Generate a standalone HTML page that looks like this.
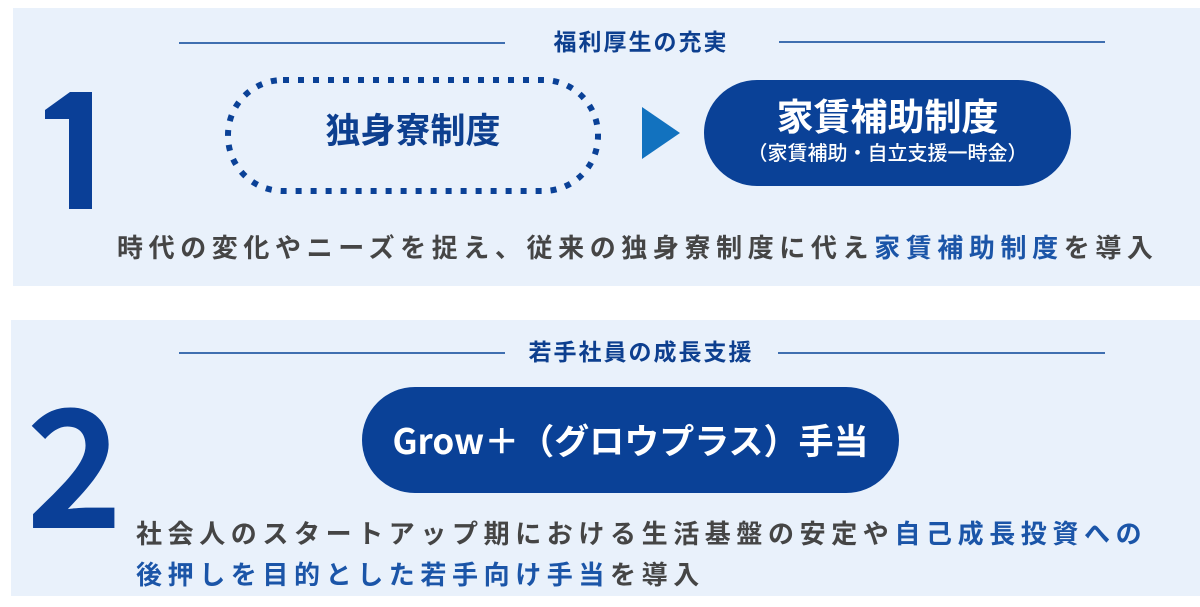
<!DOCTYPE html>
<html><head><meta charset="utf-8"><style>
*{margin:0;padding:0;box-sizing:border-box}
body{width:1200px;height:607px;background:#fff;position:relative;overflow:hidden;font-family:"Liberation Sans","Noto Sans CJK JP",sans-serif}
.p{position:absolute;background:#e9f1fb}
.a{position:absolute;white-space:nowrap}
.line{position:absolute;height:2px;background:#3f6fb0}
.t{color:#0d3f8f;font-weight:700;font-size:23px;letter-spacing:2px;text-align:center;width:400px;left:441px;line-height:26px}
.num{color:#0a3f97;font-weight:700;font-family:"Noto Sans CJK JP",sans-serif;line-height:1}
.body{color:#454545;font-weight:700;font-size:26px;letter-spacing:5.6px;line-height:41px}
.b{color:#1b55a8}
.pill{position:absolute;background:#0a4197;border-radius:60px;color:#fff;text-align:center}
</style></head><body>
<div class="p" style="left:13px;top:8px;width:1187px;height:278px"></div>
<div class="p" style="left:11px;top:320px;width:1189px;height:276px"></div>

<!-- panel 1 -->
<div class="line" style="left:179px;top:42px;width:326px"></div>
<div class="line" style="left:779px;top:41px;width:326px"></div>
<div class="a t" style="top:29px">福利厚生の充実</div>
<div class="a num" style="left:28px;top:68px;font-size:160px;color:transparent">1</div>
<svg class="a" style="left:0;top:0" width="120" height="230"><polygon points="45,110 70,92 92,92 92,209 69,209 69,119 45,119" fill="#0a3f97"/></svg>
<svg class="a" style="left:224px;top:76px" width="380" height="120">
<rect x="4" y="4" width="370" height="111" rx="55" ry="55" fill="none" stroke="#0a4197" stroke-width="6" stroke-dasharray="6 9"/>
</svg>
<div class="a" style="left:226px;top:110px;width:374px;text-align:center;color:#0d3f8f;font-weight:700;font-size:35px;line-height:44px">独身寮制度</div>
<svg class="a" style="left:642px;top:107px" width="40" height="53"><polygon points="0,0 38,26 0,52" fill="#1272bf"/></svg>
<div class="pill" style="left:704px;top:80px;width:367px;height:106px">
<div style="font-size:37px;font-weight:700;line-height:40px;margin-top:18px">家賃補助制度</div>
<div style="font-size:20px;font-weight:500;line-height:24px;margin-top:4px">（家賃補助・自立支援一時金）</div>
</div>
<div class="a body" style="left:117px;top:228px">時代の変化やニーズを捉え、従来の独身寮制度に代え<span class="b">家賃補助制度</span>を導入</div>

<!-- panel 2 -->
<div class="line" style="left:179px;top:352px;width:326px"></div>
<div class="line" style="left:778px;top:352px;width:327px"></div>
<div class="a t" style="top:339px">若手社員の成長支援</div>
<div class="a num" style="left:26px;top:376px;font-size:164px">2</div>
<div class="pill" style="left:362px;top:387px;width:537px;height:106px">
<div style="font-size:35px;font-weight:700;line-height:106px;font-family:'Noto Sans CJK JP',sans-serif">Grow＋（グロウプラス）手当</div>
</div>
<div class="a body" style="left:136px;top:514px">社会人のスタートアップ期における生活基盤の安定や<span class="b">自己成長投資への</span><br><span class="b">後押しを目的とした若手向け手当</span>を導入</div>
</body></html>
